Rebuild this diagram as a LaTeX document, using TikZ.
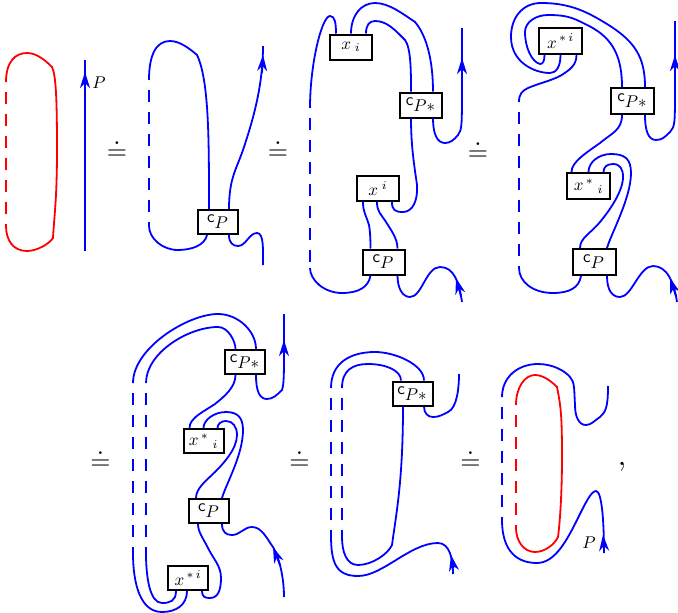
\documentclass[tikz,border=0pt]{standalone}
\usetikzlibrary{arrows.meta,calc}
\newcommand{\boxlab}[1]{\scalebox{1.7}{$#1$}}
\newcommand{\cP}{\mathsf{c}_{\textstyle P}}
\newcommand{\cPs}{\mathsf{c}_{\textstyle P*}}
\tikzset{
  wire/.style={blue,line width=1.8pt,line cap=butt},
  redwire/.style={wire,red},
  dashwire/.style={blue,line width=1.8pt,dash pattern=on 12pt off 10pt,dash phase=12pt},
  dashred/.style={dashwire,red},
  tip/.style={blue,line width=1.8pt,-{Stealth[length=16pt,width=10pt,inset=5pt]}},
  tbox/.style={draw=black,line width=2pt,fill=white,inner sep=0pt,minimum width=40pt,minimum height=24pt},
  eqsign/.style={inner sep=0pt},
  lab/.style={inner sep=0pt,text=black}
}
\begin{document}
\begin{tikzpicture}[x=1pt,y=-1pt]
\useasboundingbox (0,0) rectangle (678,613);
% panel 1
\coordinate (r1a) at (6,82); \coordinate (r1b) at (6,226);
\draw[dashred] (r1a) -- (r1b);
\draw[redwire] (r1a) .. controls +(0,-20) and +(-12,0) .. (27,53) .. controls +(10,0) and +(-6,-6) .. (52,67) .. controls +(4,8) and +(0,-50) .. (57,150) .. controls +(0,50) and +(1,-20) .. (53,238) .. controls +(-4,6) and +(10,0) .. (27,251) .. controls +(-14,0) and +(0,14) .. (r1b);
\coordinate (l1a) at (85,251); \coordinate (l1b) at (85,60); \coordinate (l1t) at (85,72);
\draw[blue,line width=1.8pt] (l1a) -- (l1b);
\draw[tip] (85,90) -- (l1t);
\node[lab] (p1) at (99,83) {\boxlab{P}};
\node[eqsign] (e1) at (117,149) {\scalebox{2.6}{$\doteq$}};
% panel 2
\node[tbox] (a1) at (218,222) {\boxlab{\cP}};
\coordinate (d2a) at (149,80); \coordinate (d2b) at (149,226);
\draw[dashwire] (d2a) -- (d2b);
\draw[wire] (d2a) .. controls +(0,-25) and +(-14,0) .. (170,41) .. controls +(10,0) and +(-7,-6) .. (197,55) .. controls +(12,25) and +(0,-70) .. ([xshift=-9pt]a1.north);
\draw[wire] ([xshift=-11pt]a1.south) .. controls +(-2,10) and +(14,0) .. (178,250) .. controls +(-16,0) and +(0,12) .. (d2b);
\coordinate (e2a) at (263,46); \coordinate (e2b) at (263,265);
\draw[wire] ([xshift=11pt]a1.north) .. controls +(0,-30) and +(-7,20) .. (243,150) .. controls +(10,-30) and +(0,40) .. (e2a);
\draw[tip] (262,73) -- (263,55);
\draw[wire] ([xshift=11pt]a1.south) .. controls +(0,8) and +(-5,0) .. (238,246) .. controls +(8,0) and +(-8,0) .. (257,233) .. controls +(7,0) and +(0,-15) .. (e2b);
\node[eqsign] (e2) at (278,149) {\scalebox{2.6}{$\doteq$}};
% panel 3
\node[tbox,minimum width=42pt,minimum height=25pt] (b1) at (351,47) {\boxlab{x_{\;i}}};
\node[tbox,minimum width=42pt,minimum height=25pt] (b2) at (421,105) {\boxlab{\cPs}};
\node[tbox,minimum width=42pt,minimum height=25pt] (b3) at (378,188.5) {\boxlab{x^{\;i}}};
\node[tbox,minimum width=42pt,minimum height=25pt] (b4) at (383.5,262) {\boxlab{\cP}};
\coordinate (d3a) at (310,108); \coordinate (d3b) at (310,268);
\draw[dashwire] (d3a) -- (d3b);
\draw[wire] (d3a) .. controls +(0,-45) and +(-8,0) .. (330,16) .. controls +(5,0) and +(0,-10) .. ([xshift=-15pt]b1.north);
\draw[wire] (b1.north) .. controls +(0,-18) and +(-14,0) .. (375,3) .. controls +(14,0) and +(-12,-8) .. (415,22) .. controls +(12,14) and +(0,-30) .. ([xshift=12pt]b2.north);
\draw[wire] ([xshift=15pt]b1.north) .. controls +(0,-8) and +(-6,0) .. (375,21) .. controls +(12,0) and +(-10,-10) .. (405,40) .. controls +(6,8) and +(0,-20) .. ([xshift=-10pt]b2.north);
\draw[wire] ([xshift=-10pt]b2.south) .. controls +(0,30) and +(-2,-15) .. (417,185) .. controls +(1,15) and +(10,0) .. (403,212) .. controls +(-8,0) and +(0,8) .. ([xshift=14pt]b3.south);
\coordinate (e3a) at (462,28); \coordinate (e3b) at (462,302);
\draw[wire] ([xshift=12pt]b2.south) .. controls +(0,15) and +(-8,0) .. (445,143) .. controls +(5,0) and +(-4,5) .. (458,135) .. controls +(4,-5) and +(0,40) .. (462,85) -- (e3a);
\draw[tip] (462,76) -- (462,58);
\draw[wire] ([xshift=-15pt]b3.south) .. controls +(0,10) and +(-3,-10) .. (369,225) .. controls +(1,5) and +(0,-10) .. ([xshift=-13pt]b4.north);
\draw[wire] ([xshift=-1pt]b3.south) .. controls +(0,10) and +(-5,-8) .. (386,222) .. controls +(5,8) and +(0,-10) .. ([xshift=14pt]b4.north);
\draw[wire] ([xshift=-13pt]b4.south) .. controls +(-2,12) and +(16,0) .. (342,293) .. controls +(-18,0) and +(0,12) .. (d3b);
\draw[wire] ([xshift=14pt]b4.south) .. controls +(0,12) and +(-8,0) .. (410,297) .. controls +(12,0) and +(-14,0) .. (440,267) .. controls +(14,0) and +(-3,-20) .. (e3b);
\draw[tip] (461,296) -- (456,278);
\node[eqsign] (e3) at (478,150) {\scalebox{2.6}{$\doteq$}};
% panel 4
\node[tbox,minimum width=43pt,minimum height=26pt] (c1) at (560.5,41) {\boxlab{x^{\,*\,i}}};
\node[tbox,minimum width=43pt,minimum height=26pt] (c2) at (632.5,101) {\boxlab{\cPs}};
\node[tbox,minimum width=43pt,minimum height=26pt] (c3) at (588.5,186) {\boxlab{x^{\,*}{}_{\;i}}};
\node[tbox,minimum width=43pt,minimum height=26pt] (c4) at (594,262) {\boxlab{\cP}};
\coordinate (d4a) at (519,102); \coordinate (d4b) at (519,268);
\draw[dashwire] (d4a) -- (d4b);
\draw[wire] ([xshift=16pt]c1.south) .. controls +(0,10) and +(10,-6) .. (560,76) .. controls +(-10,5) and +(12,-5) .. (528,88) .. controls +(-6,3) and +(0,-8) .. (d4a);
\draw[wire] (c1.south) .. controls +(0,12) and +(6,0) .. (550,73) .. controls +(-16,0) and +(0,25) .. (511,37) .. controls +(0,-20) and +(-18,0) .. (541,3) .. controls +(20,0) and +(-18,-10) .. (595,17) .. controls +(36,20) and +(0,-35) .. ([xshift=12.5pt]c2.north);
\draw[wire] ([xshift=-16pt]c1.south) .. controls +(0,6) and +(3,0) .. (540,64) .. controls +(-8,-2) and +(0,16) .. (525,32) .. controls +(0,-10) and +(-12,0) .. (548,15) .. controls +(22,0) and +(-16,-8) .. (591,27) .. controls +(22,12) and +(0,-30) .. ([xshift=-10.5pt]c2.north);
\draw[wire] ([xshift=-10.5pt]c2.south) .. controls +(0,15) and +(12,-10) .. (600,143) .. controls +(-14,10) and +(0,-10) .. ([xshift=-17pt]c3.north);
\coordinate (e4a) at (675,21); \coordinate (e4b) at (677,302);
\draw[wire] ([xshift=12.5pt]c2.south) .. controls +(0,15) and +(-8,0) .. (656,140) .. controls +(6,0) and +(-5,5) .. (670,132) .. controls +(5,-6) and +(0,40) .. (675,85) -- (e4a);
\draw[tip] (675,72) -- (675,55);
\draw[wire] (c3.north) .. controls +(0,-10) and +(-12,0) .. (611,154) .. controls +(14,0) and +(0,-14) .. (631,173) .. controls +(0,25) and +(4,-14) .. ([xshift=13pt]c4.north);
\draw[wire] ([xshift=15pt]c3.north) .. controls +(0,-5) and +(-6,0) .. (613,164) .. controls +(7,0) and +(0,-8) .. (623,177) .. controls +(0,14) and +(10,-12) .. (600,222) .. controls +(-10,12) and +(0,-10) .. ([xshift=-14pt]c4.north);
\draw[wire] ([xshift=-13pt]c4.south) .. controls +(-2,12) and +(16,0) .. (553,293) .. controls +(-20,0) and +(0,14) .. (d4b);
\draw[wire] ([xshift=13pt]c4.south) .. controls +(0,14) and +(-8,0) .. (620,297) .. controls +(12,0) and +(-14,0) .. (653,266) .. controls +(14,0) and +(-3,-20) .. (e4b);
\draw[tip] (676,296) -- (670,278);
% row 2 panel 1
\node[eqsign] (e4) at (100.5,459) {\scalebox{2.6}{$\doteq$}};
\node[tbox] (f1) at (245,362) {\boxlab{\cPs}};
\node[tbox] (f2) at (203.5,441) {\boxlab{x^{\,*}{}_{\;i}}};
\node[tbox] (f3) at (209,511) {\boxlab{\cP}};
\node[tbox] (f4) at (188,578) {\boxlab{x^{\,*\,i}}};
\coordinate (g1a) at (133,383); \coordinate (g1b) at (133,553);
\coordinate (g2a) at (146,383); \coordinate (g2b) at (146,553);
\draw[dashwire] (g1a) -- (g1b);
\draw[dashwire] (g2a) -- (g2b);
\draw[wire] (g1a) .. controls +(0,-35) and +(-30,0) .. (218,314) .. controls +(20,0) and +(0,-18) .. ([xshift=11pt]f1.north);
\draw[wire] (g2a) .. controls +(0,-30) and +(-30,0) .. (218,327) .. controls +(10,0) and +(0,-8) .. ([xshift=-9.5pt]f1.north);
\draw[wire] ([xshift=-9.5pt]f1.south) .. controls +(0,12) and +(10,-8) .. (215,404) .. controls +(-12,8) and +(0,-10) .. ([xshift=-14pt]f2.north);
\coordinate (e5a) at (284,314); \coordinate (e5b) at (284,597);
\draw[wire] ([xshift=11pt]f1.south) .. controls +(0,15) and +(-8,0) .. (267,399) .. controls +(6,0) and +(-5,5) .. (282,390) .. controls +(2,-6) and +(0,30) .. (284,345) -- (e5a);
\draw[tip] (284,357) -- (284,340);
\draw[wire] (f2.north) .. controls +(0,-8) and +(-12,0) .. (226,412) .. controls +(12,0) and +(0,-12) .. (243,430) .. controls +(0,25) and +(4,-14) .. ([xshift=13pt]f3.north);
\draw[wire] ([xshift=14pt]f2.north) .. controls +(0,-4) and +(-5,0) .. (226,421) .. controls +(7,0) and +(0,-8) .. (237,435) .. controls +(0,14) and +(8,-8) .. (215,472) .. controls +(-8,8) and +(0,-10) .. ([xshift=-13pt]f3.north);
\draw[wire] ([xshift=-11pt]f3.south) .. controls +(0,8) and +(-5,-10) .. (208,548) .. controls +(6,12) and +(0,-12) .. (221,578) .. controls +(0,12) and +(8,0) .. (210,598) .. controls +(-5,0) and +(0,6) .. ([xshift=14pt]f4.south);
\draw[wire] ([xshift=13pt]f3.south) .. controls +(0,8) and +(-6,0) .. (232,535) .. controls +(8,0) and +(-8,0) .. (252,527) .. controls +(10,0) and +(-6,-8) .. (273,547) .. controls +(6,10) and +(0,-20) .. (e5b);
\draw[tip] (280,565) -- (273,547);
\draw[wire] ([xshift=-12pt]f4.south) .. controls +(0,10) and +(8,0) .. (162,603) .. controls +(-12,0) and +(0,25) .. (g2b);
\draw[wire] ([xshift=-1pt]f4.south) .. controls +(0,14) and +(14,0) .. (162,612) .. controls +(-22,0) and +(0,30) .. (g1b);
\node[eqsign] (e5) at (299.5,459) {\scalebox{2.6}{$\doteq$}};
% row 2 panel 2
\node[tbox] (h1) at (412.5,393.5) {\boxlab{\cPs}};
\coordinate (i1a) at (331,388); \coordinate (i1b) at (331,535);
\coordinate (i2a) at (342,388); \coordinate (i2b) at (342,537);
\draw[dashwire] (i1a) -- (i1b);
\draw[dashwire] (i2a) -- (i2b);
\draw[wire] (i1a) .. controls +(0,-25) and +(-25,0) .. (375,352) .. controls +(20,0) and +(0,-16) .. ([xshift=11.5pt]h1.north);
\draw[wire] (i2a) .. controls +(0,-18) and +(-15,0) .. (368,364) .. controls +(18,0) and +(0,-10) .. ([xshift=-11.5pt]h1.north);
\draw[wire] ([xshift=-9.5pt]h1.south) .. controls +(0,75) and +(4,-30) .. (392,545) .. controls +(-4,9) and +(14,0) .. (358,565) .. controls +(-12,0) and +(0,14) .. (i2b);
\coordinate (j1a) at (459,374); \coordinate (j1b) at (453,574);
\draw[wire] ([xshift=11.5pt]h1.south) .. controls +(0,7) and +(-5,0) .. (433,417) .. controls +(6,0) and +(-6,3) .. (448,412) .. controls +(9,-4) and +(0,14) .. (j1a);
\draw[wire] (i1b) .. controls +(0,28) and +(-22,0) .. (358,576) .. controls +(25,0) and +(-28,0) .. (438,543) .. controls +(12,0) and +(0,-14) .. (j1b);
\draw[tip] (453.5,568) -- (451,555);
\node[eqsign] (e6) at (470.5,459) {\scalebox{2.6}{$\doteq$}};
% row 2 panel 3
\coordinate (k1a) at (502,397); \coordinate (k1b) at (502,520);
\coordinate (k2a) at (516,405); \coordinate (k2b) at (516,528);
\coordinate (k4) at (608,386);
\draw[dashwire] (k1a) -- (k1b);
\draw[dashred] (k2a) -- (k2b);
\draw[wire] (k1a) .. controls +(0,-20) and +(-20,0) .. (538,364) .. controls +(15,0) and +(-5,-6) .. (570,377) .. controls +(5,5) and +(-1,-15) .. (575,405) .. controls +(0,12) and +(-7,0) .. (586,425) .. controls +(5,0) and +(-6,4) .. (600,417) .. controls +(6,-5) and +(0,20) .. (k4);
\coordinate (k3) at (604,553);
\draw[wire] (k1b) .. controls +(0,25) and +(-25,0) .. (537,563) .. controls +(18,0) and +(-10,20) .. (577,520) .. controls +(8,-16) and +(-5,0) .. (596,491) .. controls +(6,0) and +(0,-30) .. (k3);
\draw[tip] (604,549) -- (603,535);
\draw[redwire] (k2a) .. controls +(0,-18) and +(-10,0) .. (535,375) .. controls +(8,0) and +(-6,-6) .. (557,387) .. controls +(4,20) and +(0,-40) .. (562,457) .. controls +(0,35) and +(2,-15) .. (558,537) .. controls +(-3,7) and +(10,0) .. (535,552) .. controls +(-12,0) and +(0,12) .. (k2b);
\node[lab] (p2) at (589,543) {\boxlab{P}};
\node[lab] (cm) at (622,467) {\scalebox{3}{$,$}};
\end{tikzpicture}
\end{document}
